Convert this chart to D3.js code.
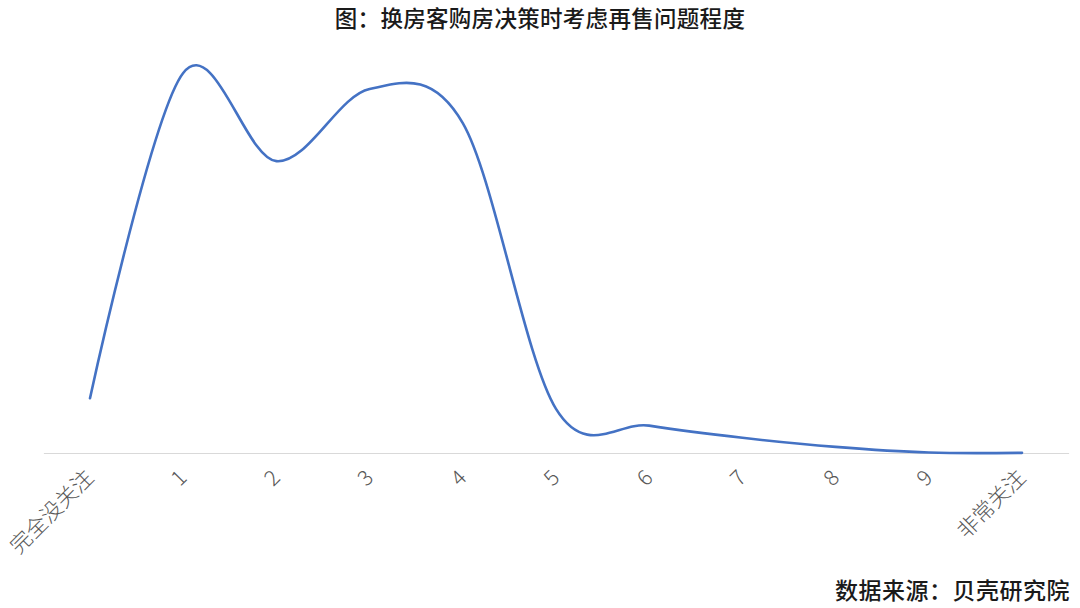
<!DOCTYPE html>
<html><head><meta charset="utf-8">
<script src="https://cdn.jsdelivr.net/npm/d3@7"></script>
<style>
html,body{margin:0;padding:0;background:#fff;}
text{font-family:"Noto Sans CJK SC","Noto Sans",sans-serif;}
</style></head>
<body>
<svg id="chart" width="1080" height="608"></svg>
<script>
const title = "图：换房客购房决策时考虑再售问题程度";
const source = "数据来源：贝壳研究院";
const categories = ["完全没关注","1","2","3","4","5","6","7","8","9","非常关注"];
const values = [3.6, 25.0, 19.2, 23.95, 21.7, 2.9, 1.8, 1.0, 0.4, 0.03, 0.01];

const svg = d3.select("#chart");
const x = d3.scaleBand().domain(categories).range([43.4, 1068.6]);
const y = d3.scaleLinear().domain([0, 27]).range([453, 42.6]);

svg.append("text").attr("x", 540).attr("y", 27).attr("text-anchor","middle")
  .attr("font-size", 22.5).attr("font-weight", 500).attr("fill","#1a1a1a")
  .attr("letter-spacing", 0.3).text(title);

const axis = d3.axisBottom(x).tickSize(0).tickPadding(0);
const g = svg.append("g").attr("transform","translate(0,453)").call(axis);
g.select(".domain").attr("stroke","#d9d9d9").attr("stroke-width",1.2);
g.selectAll(".tick text")
  .attr("font-size", 21.5).attr("font-weight", 300).attr("fill","#595959")
  .attr("text-anchor","end").attr("dy", 0)
  .attr("transform","translate(5,26) rotate(-45)");

const line = d3.line()
  .x((d,i) => x(categories[i]) + x.bandwidth()/2)
  .y(d => y(d))
  .curve(d3.curveCardinal.tension(0));
svg.append("path").datum(values).attr("d", line)
  .attr("fill","none").attr("stroke","#4472c4").attr("stroke-width",2.6)
  .attr("stroke-linecap","round");

svg.append("text").attr("x", 1070).attr("y", 599).attr("text-anchor","end")
  .attr("font-size", 23).attr("font-weight", 500).attr("fill","#1a1a1a")
  .attr("letter-spacing", 0.5).text(source);
</script>
</body></html>
